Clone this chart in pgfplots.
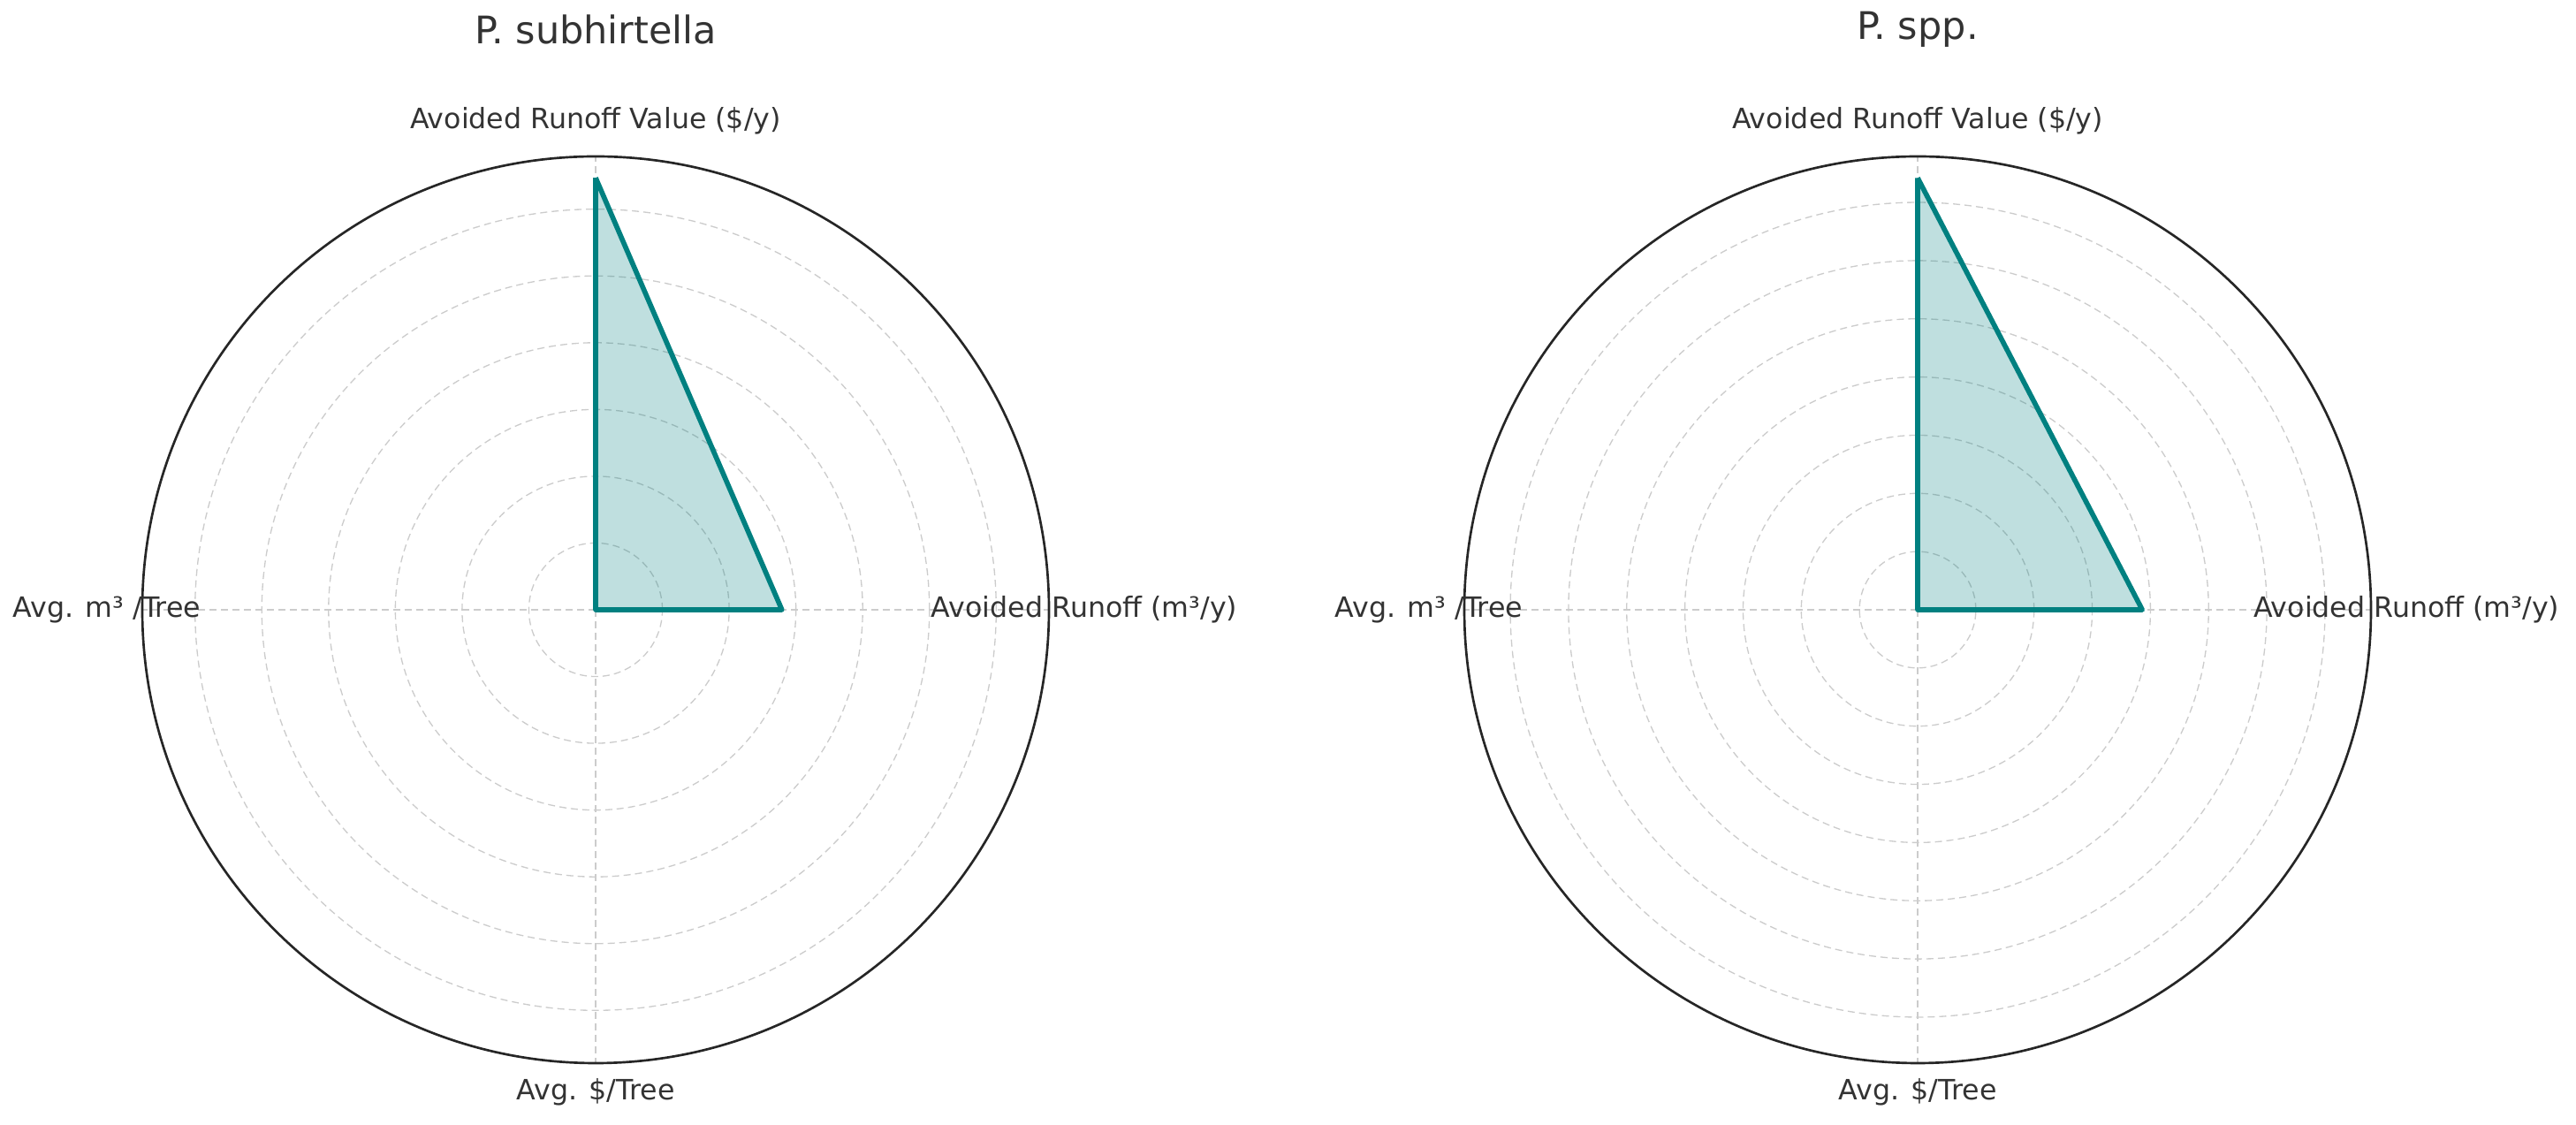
\documentclass[border=0pt]{standalone}
\usepackage{fontspec}
\setmainfont{DejaVu Sans}
\usepackage{pgfplots}
\pgfplotsset{compat=1.18}
\usepgfplotslibrary{polar}

\definecolor{ink}{HTML}{333333}
\definecolor{tealline}{HTML}{008080}
\definecolor{gridgray}{HTML}{CCCCCC}

\pgfplotsset{radar/.style={
    scale only axis, width=307.8pt, height=307.8pt, anchor=center,
    xmin=0, xmax=360, ymin=0,
    xtick={0,90,180,270}, xticklabels={},
    yticklabels={},
    major tick length=0pt,
    grid=major,
    major grid style={gridgray, line width=0.4pt, dash pattern=on 2.4pt off 1.5pt},
    axis line style={black!85, line width=0.8pt},
    y axis line style={draw=none},
    clip=false,
  },
}
\tikzset{lbl/.style={font=\fontsize{9.5}{11}\selectfont, text=ink}}

\begin{document}
\begin{tikzpicture}
\useasboundingbox (0,0) rectangle (874.5pt,381.9pt);

% P. subhirtella
\begin{polaraxis}[radar, at={(202.2pt,174.9pt)}, ymax=6.79, ytick={1,2,3,4,5,6}]
\addplot[tealline, line width=1.7pt, line join=round, fill=tealline, fill opacity=0.25]
  coordinates {(90,6.47) (0,2.79) (270,0) (180,0) (90,6.47)};
\node[lbl] at (axis cs:90,7.32) {Avoided Runoff Value (\$/y)};
\node[lbl] at (axis cs:0,7.32) {Avoided Runoff (m³/y)};
\node[lbl] at (axis cs:270,7.23) {Avg. \$/Tree};
\node[lbl] at (axis cs:180,7.32) {Avg. m³ /Tree};
\end{polaraxis}

% P. spp.
\begin{polaraxis}[radar, at={(651pt,174.9pt)}, ymax=7.79, ytick={1,2,3,4,5,6,7}]
\addplot[tealline, line width=1.7pt, line join=round, fill=tealline, fill opacity=0.25]
  coordinates {(90,7.42) (0,3.86) (270,0) (180,0) (90,7.42)};
\node[lbl] at (axis cs:90,8.40) {Avoided Runoff Value (\$/y)};
\node[lbl] at (axis cs:0,8.40) {Avoided Runoff (m³/y)};
\node[lbl] at (axis cs:270,8.29) {Avg. \$/Tree};
\node[lbl] at (axis cs:180,8.40) {Avg. m³ /Tree};
\end{polaraxis}

\node[font=\fontsize{12.9}{15}\selectfont, text=ink] at (202.2pt,372pt) {P. subhirtella};
\node[font=\fontsize{12.9}{15}\selectfont, text=ink] at (651pt,372pt) {P. spp.};
\end{tikzpicture}
\end{document}
